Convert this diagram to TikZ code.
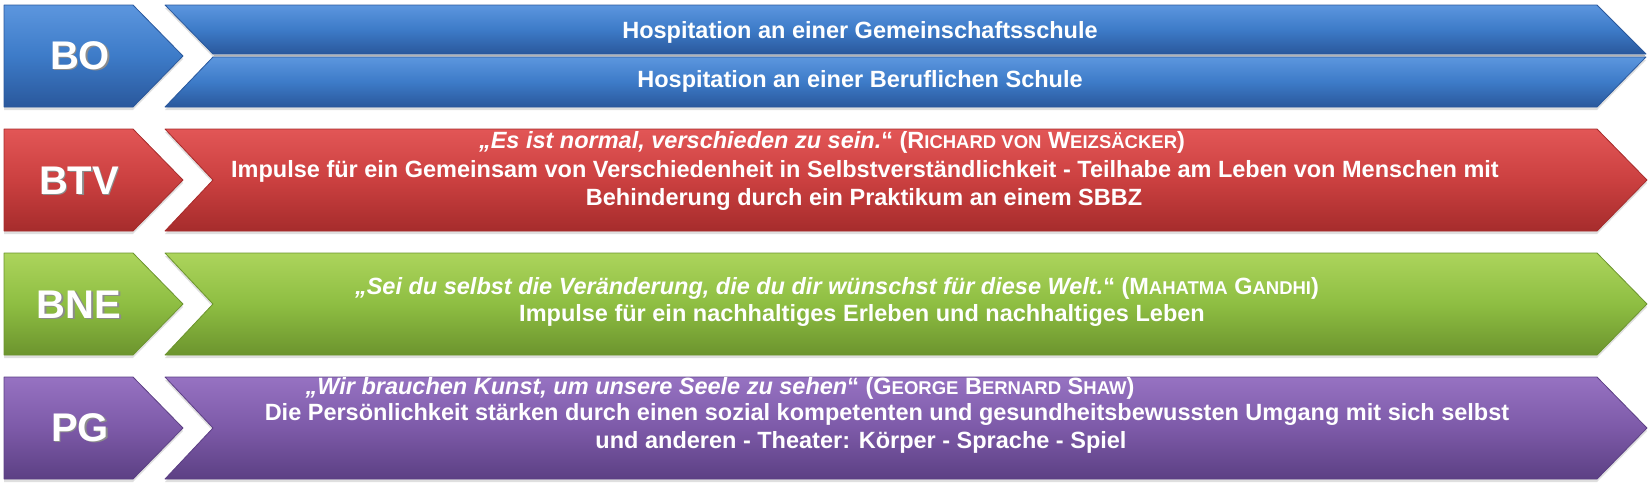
\documentclass[tikz,border=0pt]{standalone}
\usepackage{fontspec}
\setmainfont{Liberation Sans}
\usetikzlibrary{shadows}

\definecolor{bluetop}{RGB}{92,150,222}
\definecolor{bluemid}{RGB}{61,123,200}
\definecolor{bluebot}{RGB}{42,88,156}
\definecolor{redtop}{RGB}{226,86,86}
\definecolor{redmid}{RGB}{203,64,64}
\definecolor{redbot}{RGB}{166,44,44}
\definecolor{greentop}{RGB}{172,212,92}
\definecolor{greenmid}{RGB}{142,190,66}
\definecolor{greenbot}{RGB}{108,148,46}
\definecolor{violettop}{RGB}{150,114,194}
\definecolor{violetmid}{RGB}{125,90,168}
\definecolor{violetbot}{RGB}{92,64,132}

\tikzset{
    bevel/.style={top color=#1top, bottom color=#1bot, middle color=#1mid,
        draw=#1bot, line width=0.8pt, line join=round,
        drop shadow={shadow xshift=0pt, shadow yshift=-3pt, opacity=0.25}},
}

\newcommand{\tagbox}[2]{\shade[bevel=#2] (4,#1) -- (133,#1) -- (183,#1+51) -- (133,#1+102) -- (4,#1+102) -- cycle;}
\newcommand{\bandbox}[2]{\shade[bevel=#2] (165,#1) -- (1597,#1) -- (1647,#1+51) -- (1597,#1+102) -- (165,#1+102) -- (213,#1+51) -- cycle;}
\newcommand{\shd}[1]{\makebox[0pt][l]{\raisebox{-1.5pt}{\kern1.5pt\textcolor{black!45}{#1}}}#1}
\newcommand{\tagn}{\node[text=white, font=\fontsize{40}{40}\selectfont\bfseries]}
\newcommand{\txn}{\node[text=white, anchor=base, inner sep=0pt, font=\fontsize{23.5}{28}\selectfont\bfseries]}
\newcommand{\sk}[1]{{\fontsize{18.5}{28}\selectfont #1}}

\begin{document}
\begin{tikzpicture}[x=1pt, y=-1pt]
    \useasboundingbox (0,0) rectangle (1652,488);

    % BO
    \tagbox{5}{blue}
    \shade[bevel=blue] (165,5) -- (1597,5) -- (1646,54) -- (213,54) -- cycle;
    \shade[bevel=blue] (213,57) -- (1646,57) -- (1597,107) -- (165,107) -- cycle;
    \draw[black!30, line width=1.5pt] (214,55.5) -- (1645,55.5);
    \tagn (bo) at (80,56) {\shd{BO}};
    \txn (bo1) at (860,38) {Hospitation an einer Gemeinschaftsschule};
    \txn (bo2) at (860,87) {Hospitation an einer Beruflichen Schule};

    % BTV
    \tagbox{129}{red}
    \bandbox{129}{red}
    \tagn (btv) at (79,181) {\shd{BTV}};
    \txn (btv1) at (832,148) {\textit{„Es ist normal, verschieden zu sein.}“ (R\sk{ICHARD VON} W\sk{EIZSÄCKER})};
    \txn (btv2) at (865,177) {Impulse für ein Gemeinsam von Verschiedenheit in Selbstverständlichkeit - Teilhabe am Leben von Menschen mit};
    \txn (btv3) at (864,205) {Behinderung durch ein Praktikum an einem SBBZ};

    % BNE
    \tagbox{253}{green}
    \bandbox{253}{green}
    \tagn (bne) at (79,305) {\shd{BNE}};
    \txn (bne1) at (837,294) {\textit{„Sei du selbst die Veränderung, die du dir wünschst für diese Welt.}“ (M\sk{AHATMA} G\sk{ANDHI})};
    \txn (bne2) at (862,321) {Impulse für ein nachhaltiges Erleben und nachhaltiges Leben};

    % PG
    \tagbox{377}{violet}
    \bandbox{377}{violet}
    \tagn (pg) at (80,428) {\shd{PG}};
    \txn (pg1) at (720,394) {\textit{„Wir brauchen Kunst, um unsere Seele zu sehen}“ (G\sk{EORGE} B\sk{ERNARD} S\sk{HAW})};
    \txn (pg2) at (887,420) {Die Persönlichkeit stärken durch einen sozial kompetenten und gesundheitsbewussten Umgang mit sich selbst};
    \txn (pg3) at (861,448) {und anderen - Theater: Körper - Sprache - Spiel};
\end{tikzpicture}
\end{document}
